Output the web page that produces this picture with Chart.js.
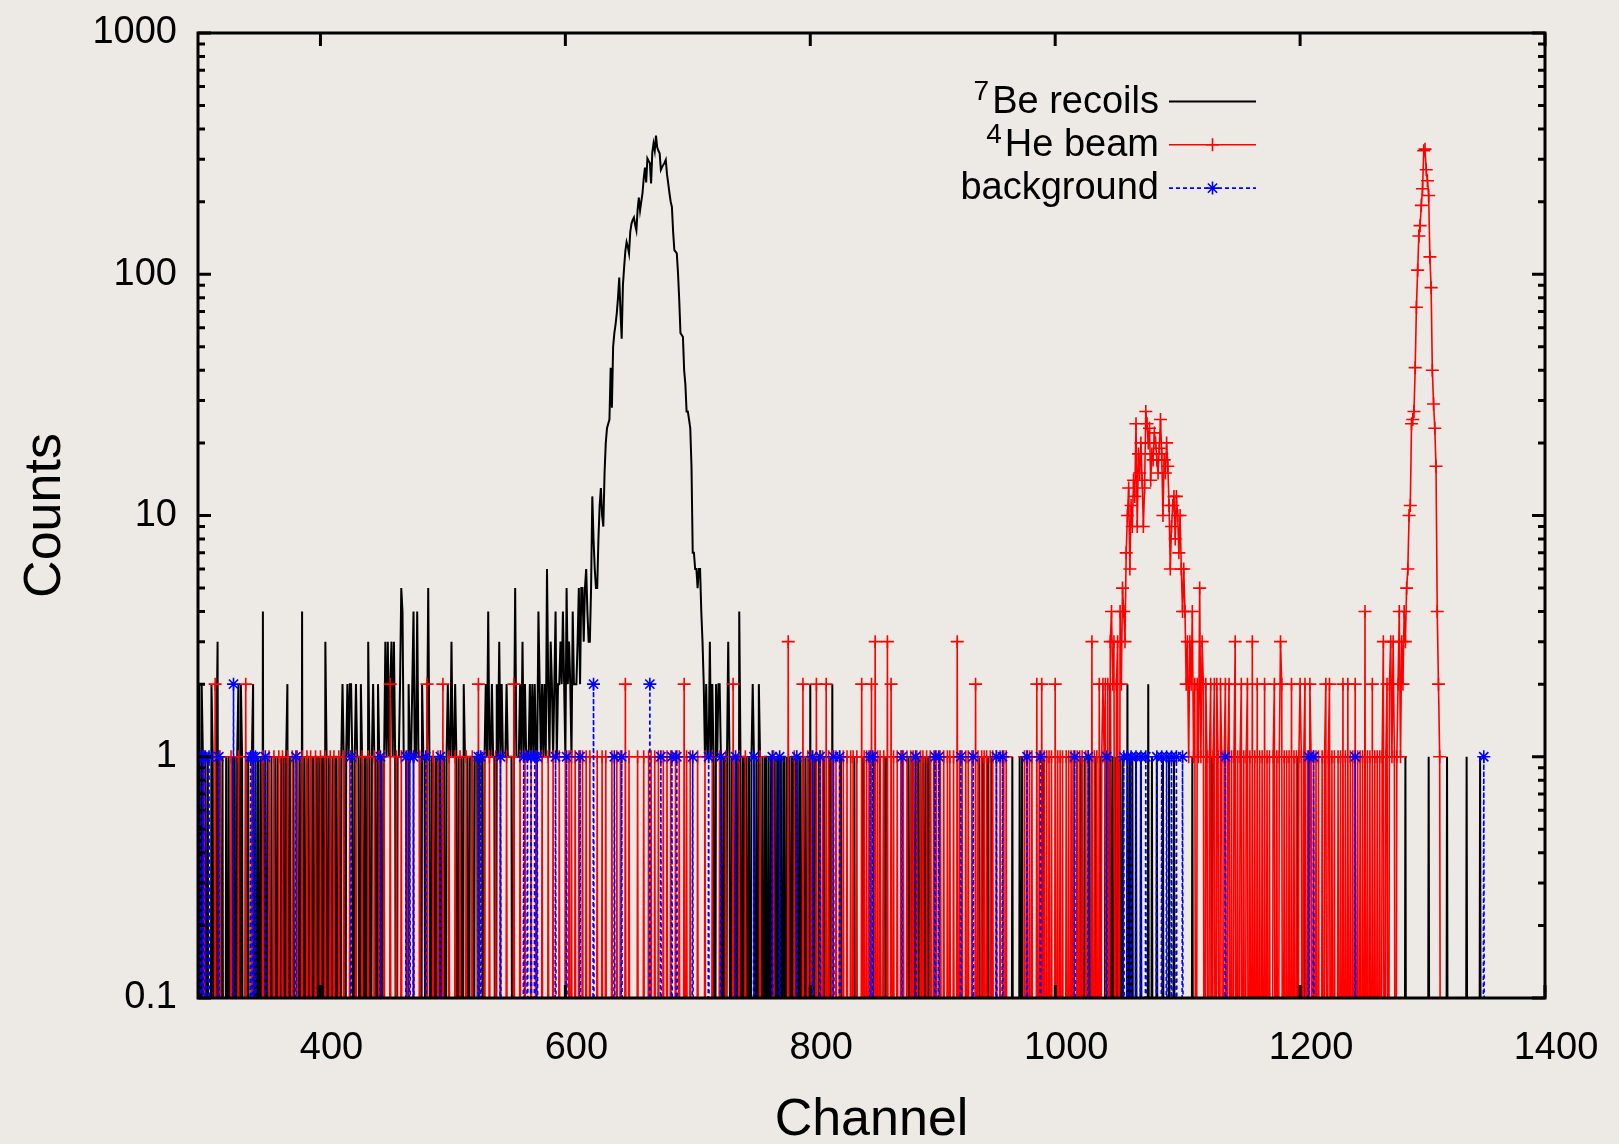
<!DOCTYPE html>
<html>
<head>
<meta charset="utf-8">
<title>Counts per channel</title>
<script src="https://cdn.jsdelivr.net/npm/chart.js@4.4.1/dist/chart.umd.min.js"></script>
<style>
  html, body { margin: 0; padding: 0; background: #edeae6; }
  #wrap { width: 1619px; height: 1144px; position: relative; }
</style>
</head>
<body>
<div id="wrap"><canvas id="chart"></canvas></div>
<script>
// channel of the first entry in every counts array (one entry per channel)
const firstChannel = 300;
const xTicks = [400, 600, 800, 1000, 1200, 1400];
const yTicks = [0.1, 1, 10, 100, 1000];
const seriesNames = ['Be recoils', 'He beam', 'background'];
const seriesIsotopes = ['7', '4', ''];

// 7Be recoils, channels 300..1354
const beRecoilCounts = [
  1,2,0,2,1,0,1,0,1,0, 0,2,1,0,0,1,3,0,1,0, 1,0,0,1,0,1,0,0,1,0, 1,0,1,2,0,2,1,0,0,1, 0,1,0,0,1,2,0,1,0,1, // 300
  0,1,0,4,0,1,0,1,0,0, 1,0,0,1,0,1,0,0,1,0, 1,0,1,2,0,1,0,0,1,0, 0,1,0,1,0,4,0,1,0,1, 1,0,1,0,1,0,1,1,0,1, // 350
  0,1,1,0,3,1,0,1,1,0, 1,0,1,1,0,1,0,1,2,1, 0,1,2,1,2,2,1,0,1,2, 1,1,0,2,1,0,1,1,0,3, 1,0,1,2,1,1,0,2,1,0, // 400
  1,0,1,3,1,3,1,2,3,1, 3,1,0,1,1,2,5,4,1,1, 1,0,2,1,1,2,4,1,1,4, 1,1,0,2,1,1,0,1,5,1, 0,1,1,0,1,1,0,1,1,0, // 450
  1,1,0,1,2,1,1,3,1,1, 2,1,0,1,1,1,0,2,1,1, 1,0,1,1,1,0,1,1,1,0, 1,1,1,0,1,2,1,4,1,1, 2,1,1,0,2,1,3,1,2,1, // 500
  1,1,2,1,1,1,1,0,1,5, 1,1,1,2,1,3,1,2,1,1, 1,2,1,2,1,2,1,1,4,2, 1,2,1,2,1,6,2,1,3,2, 1,2,4,1,2,2,3,2,4,2, // 550
  1,5,2,3,2,1,4,2,2,2, 3,5,2,5,5,3,5,6,4,3, 3,5,12,8,6,5,5,8,11,13, 10,9,15,20,23,24,25,41,28,50, 57,62,69,80,97,70,54,90,107,125, // 600
  136,130,122,150,162,168,172,160,152,185, 208,184,200,217,250,277,240,302,295,289, 238,320,348,325,376,336,325,317,271,278, 284,290,298,260,238,217,200,190,150,126, 124,122,101,78,57,56,55,40,35,27, // 650
  27,25,23,16,7,7,6,6,5,6, 6,4,3,2,1,2,1,1,3,1, 2,1,0,2,1,2,2,1,0,1, 1,0,1,3,1,0,1,1,0,1, 1,0,4,1,0,1,1,0,1,0, // 700
  1,0,1,2,1,0,1,0,2,1, 0,1,0,1,1,0,1,0,1,1, 0,1,0,1,1,0,1,0,1,1, 0,1,0,1,0,1,1,0,1,1, 0,1,1,0,1,0,1,0,1,0, // 750
  2,0,1,0,1,0,0,1,0,0, 0,1,0,0,0,0,1,0,2,0, 0,0,0,0,0,1,0,0,0,0, 0,0,0,0,0,0,1,0,0,0, 0,0,0,1,0,0,0,0,0,0, // 800
  0,0,1,0,0,0,0,1,0,0, 1,0,1,0,0,0,0,0,0,0, 0,0,0,0,0,0,0,0,0,0, 1,0,1,0,1,0,1,0,1,0, 1,0,1,0,1,0,1,0,1,0, // 850
  0,1,0,0,0,0,1,0,0,0, 0,0,0,0,0,0,0,0,0,0, 0,0,0,0,0,0,0,0,0,0, 0,0,0,0,0,0,0,0,1,0, 0,1,0,0,0,1,0,0,1,0, // 900
  0,0,0,0,0,0,0,0,0,0, 0,0,0,0,0,1,0,0,0,0, 0,1,0,1,0,0,0,0,0,0, 0,0,0,0,0,0,0,0,0,0, 1,0,0,0,0,0,0,0,0,0, // 950
  0,0,0,0,0,0,0,0,0,0, 0,0,0,0,0,1,0,0,1,0, 0,1,0,0,1,0,0,0,1,0, 0,0,0,1,0,0,0,1,0,0, 0,1,0,1,0,2,0,1,0,1, // 1000
  0,1,0,1,0,1,0,0,0,2, 0,1,0,1,0,0,1,0,0,0, 1,0,0,0,0,0,2,0,0,1, 0,0,0,1,0,0,0,0,1,0, 0,0,0,1,0,0,0,1,0,0, // 1050
  0,0,0,0,0,0,0,0,0,0, 0,0,1,0,0,0,0,0,0,0, 0,0,0,0,0,0,0,0,1,0, 0,0,0,0,0,0,0,0,0,0, 0,0,0,0,0,0,0,0,0,0, // 1100
  0,0,0,0,0,0,0,0,0,0, 0,0,0,0,0,0,0,0,0,0, 0,0,0,0,0,0,0,0,0,0, 0,0,0,0,0,0,0,0,0,0, 0,0,0,0,0,0,0,0,1,0, // 1150
  0,0,0,1,0,0,0,0,0,0, 0,0,0,0,0,0,0,0,0,0, 0,0,0,0,0,0,0,0,0,0, 0,0,0,0,0,0,0,0,0,0, 0,0,0,0,0,0,0,0,0,0, // 1200
  0,0,0,0,0,0,0,0,0,0, 0,0,0,0,0,0,0,0,0,0, 0,0,0,0,0,0,0,0,0,0, 0,0,0,0,0,0,1,0,0,0, 0,0,0,0,0,0,0,0,0,0, // 1250
  0,0,0,0,0,1,0,0,0,0, 0,0,0,0,0,0,0,0,0,0, 1,0,0,0,0,0,0,0,0,0, 0,0,0,0,0,0,1,0,0,0, 0,0,0,0,0,0,0,1,0,0, // 1300
  0,0,0,0,0 // 1350
];

// 4He beam, channels 300..1354
const heBeamCounts = [
  1,0,0,0,0,1,0,0,0,0, 0,0,0,0,2,0,0,0,1,0, 0,0,0,0,0,0,0,1,0,0, 0,0,0,1,0,0,0,0,0,2, 0,0,0,0,1,0,0,0,0,0, // 300
  0,0,0,1,0,0,0,0,1,0, 0,0,1,0,0,0,1,0,0,1, 0,0,0,1,0,0,0,1,0,0, 0,1,0,0,0,1,0,0,0,1, 0,0,1,0,0,0,1,0,0,0, // 350
  1,0,0,0,1,0,0,0,1,0, 0,1,0,0,0,1,0,0,0,1, 0,0,0,0,1,0,0,0,0,1, 0,0,0,0,1,0,0,0,0,1, 0,0,0,0,1,0,0,0,1,0, // 400
  0,0,1,0,0,0,0,2,0,0, 0,0,1,0,0,0,1,0,0,0, 0,1,0,0,0,0,1,0,0,0, 0,1,0,0,0,0,0,2,0,0, 0,0,1,0,0,0,1,0,0,0, // 450
  2,0,0,0,0,1,0,0,0,0, 1,0,0,0,1,0,0,0,0,1, 0,0,0,0,1,0,0,0,0,2, 0,0,0,0,1,0,0,0,1,0, 0,0,0,1,0,0,0,1,0,0, // 500
  0,0,1,0,0,0,0,0,2,0, 0,0,0,1,0,0,0,1,0,0, 0,0,1,0,0,0,1,0,0,0, 0,1,0,0,0,0,1,0,0,0, 1,0,0,0,0,1,0,0,0,0, // 550
  1,0,0,1,0,1,0,0,1,0, 0,1,0,0,1,0,0,1,0,0, 1,0,0,0,0,0,1,0,0,0, 1,0,0,1,0,0,0,0,1,0, 0,0,1,0,0,1,0,0,0,2, // 600
  0,0,1,0,0,0,0,0,0,1, 0,0,0,0,1,0,0,0,1,0, 1,0,0,1,0,0,1,0,0,0, 1,0,0,1,0,0,1,0,0,0, 1,0,0,1,0,0,0,2,0,1, // 650
  0,0,1,0,0,0,0,0,1,0, 0,0,0,0,1,0,0,0,0,0, 1,0,0,0,0,0,1,0,0,0, 0,1,0,0,0,0,0,2,0,0, 0,0,1,0,0,0,0,1,0,0, // 700
  0,0,0,0,0,0,0,0,0,1, 0,0,0,0,0,0,0,0,0,0, 1,0,0,0,0,0,0,0,0,0, 0,0,3,0,0,0,0,1,0,0, 0,0,0,0,2,0,0,0,1,0, // 750
  0,1,0,0,0,2,0,0,1,0, 1,0,0,2,0,1,0,0,1,0, 0,1,0,0,1,0,0,1,0,0, 1,0,0,1,0,1,0,0,1,0, 0,0,2,0,1,0,1,0,1,0, // 800
  2,0,0,3,0,1,0,1,0,0, 1,0,0,3,0,0,2,0,1,0, 0,1,0,0,1,0,1,0,0,1, 0,0,1,0,1,0,0,1,0,0, 1,0,1,0,0,1,0,0,1,0, // 850
  0,1,0,1,0,0,1,0,0,1, 0,0,1,0,1,0,0,1,0,0, 3,0,1,0,1,0,0,1,0,1, 0,0,1,0,0,2,0,1,0,0, 1,0,1,0,1,0,0,1,0,1, // 900
  0,0,1,0,0,1,0,0,1,0, 1,0,0,0,0,0,0,0,0,0, 0,0,0,0,0,1,0,1,0,1, 0,1,0,0,0,2,0,1,0,2, 0,1,0,1,0,1,0,1,0,0, // 950
  2,0,1,0,1,0,1,0,0,1, 0,1,0,1,0,1,0,0,1,0, 1,0,1,0,0,1,0,1,0,0, 3,0,1,0,1,0,2,0,1,2, 1,2,0,2,0,3,4,2,3,0, // 1000
  2,3,0,4,2,5,4,3,7,10, 13,6,11,9,14,12,24,9,18,15, 20,14,9,13,27,24,20,23,14,18, 17,22,20,17,15,19,25,18,10,17, 15,20,16,11,6,9,11,12,8,12, // 1050
  10,7,10,6,4,6,4,2,3,1, 3,2,4,1,2,0,2,1,5,1, 3,2,0,2,1,0,1,2,0,1, 2,0,2,1,0,2,1,0,1,2, 0,1,2,0,1,0,1,3,0,1, // 1100
  0,1,2,0,1,0,1,2,0,1, 0,3,0,1,0,2,0,1,0,1, 0,2,0,1,0,1,0,0,1,2, 0,1,0,1,3,2,0,1,0,1, 0,1,0,2,0,1,0,1,0,1, // 1150
  2,1,0,1,2,0,1,0,2,1, 0,1,0,1,0,1,0,0,1,0, 1,2,0,1,2,0,1,0,1,0, 0,1,0,1,0,2,0,1,0,2, 0,1,0,1,0,2,0,1,0,1, // 1200
  0,1,0,4,0,1,0,1,0,2, 0,1,0,1,0,1,0,1,3,0, 1,2,0,2,3,1,3,1,0,1, 2,4,1,3,2,4,3,5,6,10, 11,24,25,27,41,73,104,144,159,193, // 1250
  226,325,330,271,244,212,118,88,40,29, 23,16,4,2,1,0,0,0,0,0, 0,0,0,0,0,0,0,0,0,0, 0,0,0,0,0,0,0,0,0,0, 0,0,0,0,0,0,0,0,0,0, // 1300
  0,0,0,0,0 // 1350
];

// background, channels 300..1354
const backgroundCounts = [
  1,0,1,0,1,0,1,0,0,1, 0,0,0,0,0,0,0,1,0,0, 0,0,0,0,0,0,0,0,0,2, 0,0,0,0,0,0,0,0,0,0, 0,0,0,1,0,1,0,1,0,0, // 300
  0,0,0,0,0,1,0,0,0,0, 0,0,0,0,0,0,0,0,0,0, 0,0,0,0,0,0,0,0,0,0, 1,0,0,0,0,0,0,0,0,0, 0,0,0,0,0,0,0,0,0,0, // 350
  0,0,0,0,0,0,0,0,0,0, 0,0,0,0,0,0,0,0,0,0, 0,0,0,0,0,1,0,0,0,0, 0,0,0,0,0,0,0,0,0,0, 0,0,0,0,0,0,0,0,0,1, // 400
  0,0,0,0,0,0,0,0,0,0, 0,0,0,0,0,0,0,0,0,0, 1,0,0,1,0,0,1,0,0,0, 0,0,0,0,0,0,1,0,0,0, 0,0,0,0,0,0,0,0,1,0, // 450
  0,0,0,0,0,0,0,0,0,0, 0,0,0,0,0,0,0,0,0,0, 0,0,0,0,0,0,0,0,0,1, 0,1,0,0,0,0,0,0,0,0, 0,0,0,0,0,0,0,1,0,0, // 500
  0,0,0,0,0,0,0,0,0,0, 0,0,0,0,0,0,1,0,0,1, 0,0,1,0,0,1,0,1,0,0, 0,0,0,0,0,0,0,0,0,0, 0,0,1,0,0,0,0,0,0,0, // 550
  0,1,0,0,0,0,0,0,0,0, 0,0,1,0,0,0,0,0,0,0, 0,0,0,2,0,0,0,0,0,0, 0,0,0,0,0,0,0,0,0,0, 1,0,0,0,0,0,1,0,0,0, // 600
  0,0,0,0,0,0,0,0,0,0, 0,0,0,0,0,0,0,0,0,2, 0,0,0,0,0,0,0,0,1,0, 0,0,0,0,0,0,0,1,0,0, 0,1,0,0,0,0,0,0,0,0, // 650
  0,0,0,0,1,0,0,0,0,0, 0,0,0,0,0,0,0,1,0,0, 0,0,0,0,0,0,0,1,0,0, 0,0,0,0,0,0,0,0,0,1, 0,0,0,0,0,0,0,0,0,0, // 700
  0,0,0,0,1,0,0,0,0,0, 0,0,0,0,0,0,0,0,0,1, 0,0,0,0,0,1,0,0,0,0, 0,0,0,0,0,0,0,0,0,1, 0,0,0,0,0,0,0,0,0,0, // 750
  0,0,1,0,0,0,0,0,1,0, 0,0,0,0,0,0,0,0,0,1, 0,0,0,0,1,0,0,0,0,0, 0,0,0,0,0,0,0,0,0,0, 0,0,0,0,0,0,0,0,0,1, // 800
  0,1,0,0,0,0,0,0,0,0, 0,0,0,0,0,0,0,0,0,0, 0,0,0,0,0,1,0,0,0,0, 0,0,0,0,0,0,1,0,0,0, 0,0,0,0,0,0,0,0,0,0, // 850
  0,0,1,0,0,1,0,0,0,0, 0,0,0,0,0,0,0,0,0,0, 0,0,0,1,0,0,0,0,0,0, 0,0,0,1,0,0,0,0,0,0, 0,0,0,0,0,0,0,0,0,0, // 900
  0,0,1,0,0,0,0,1,0,0, 0,0,0,0,0,0,0,0,0,0, 0,0,0,0,0,0,0,1,0,0, 0,0,0,0,0,0,0,0,1,0, 0,0,0,0,0,0,0,0,0,0, // 950
  0,0,0,0,0,0,0,0,0,0, 0,0,0,0,0,0,1,0,0,0, 0,0,0,0,0,0,0,1,0,0, 0,0,0,0,0,0,0,0,0,0, 0,0,1,0,0,0,0,0,0,0, // 1000
  0,0,0,0,0,0,1,0,0,1, 0,0,1,0,0,0,1,0,0,0, 1,0,0,0,1,0,0,0,0,0, 0,0,0,1,0,0,0,1,0,0, 0,1,0,0,0,1,0,0,0,1, // 1050
  0,0,0,0,1,0,0,0,0,0, 0,0,0,0,0,0,0,0,0,0, 0,0,0,0,0,0,0,0,0,0, 0,0,0,0,0,0,0,0,0,1, 0,0,0,0,0,0,0,0,0,0, // 1100
  0,0,0,0,0,0,0,0,0,0, 0,0,0,0,0,0,0,0,0,0, 0,0,0,0,0,0,0,0,0,0, 0,0,0,0,0,0,0,0,0,0, 0,0,0,0,0,0,0,0,0,0, // 1150
  0,0,0,0,0,0,0,1,0,0, 0,1,0,0,0,0,0,0,0,0, 0,0,0,0,0,0,0,0,0,0, 0,0,0,0,0,0,0,0,0,0, 0,0,0,0,0,1,0,0,0,0, // 1200
  0,0,0,0,0,0,0,0,0,0, 0,0,0,0,0,0,0,0,0,0, 0,0,0,0,0,0,0,0,0,0, 0,0,0,0,0,0,0,0,0,0, 0,0,0,0,0,0,0,0,0,0, // 1250
  0,0,0,0,0,0,0,0,0,0, 0,0,0,0,0,0,0,0,0,0, 0,0,0,0,0,0,0,0,0,0, 0,0,0,0,0,0,0,0,0,0, 0,0,0,0,0,0,0,0,0,0, // 1300
  1,0,0,0,0 // 1350
];

const fontFamily = "'Liberation Sans', Arial, Helvetica, sans-serif";
Chart.defaults.font.family = fontFamily;
Chart.defaults.color = '#000';

// empty channels have no place on a log axis: park them below 0.1 so the line drops out of the frame
const offScale = 1e-3;
const toPlot = counts => counts.map(c => (c > 0 ? c : offScale));
const markerSize = (counts, r) => ctx => (counts[ctx.dataIndex] > 0 ? r : 0);

const channels = beRecoilCounts.map((_, i) => firstChannel + i);

// --- frame with inward ticks, gnuplot style ---
const frame = {
  id: 'frame',
  afterDatasetsDraw(chart) {
    const {ctx, chartArea: a, scales: {x, y}} = chart;
    ctx.save();
    ctx.strokeStyle = '#000';
    ctx.lineWidth = 3;
    ctx.beginPath();
    xTicks.forEach(v => {
      const px = x.getPixelForValue(v);
      ctx.moveTo(px, a.bottom); ctx.lineTo(px, a.bottom - 13);
      ctx.moveTo(px, a.top); ctx.lineTo(px, a.top + 13);
    });
    yTicks.forEach(v => {
      const py = y.getPixelForValue(v);
      ctx.moveTo(a.left, py); ctx.lineTo(a.left + 13, py);
      ctx.moveTo(a.right, py); ctx.lineTo(a.right - 13, py);
      if (v >= 1000) return;
      for (let k = 2; k <= 9; k++) {
        const pm = y.getPixelForValue(v * k);
        ctx.moveTo(a.left, pm); ctx.lineTo(a.left + 7, pm);
        ctx.moveTo(a.right, pm); ctx.lineTo(a.right - 7, pm);
      }
    });
    ctx.stroke();
    ctx.strokeRect(a.left, a.top, a.right - a.left, a.bottom - a.top);
    ctx.restore();
  }
};

// --- key in the upper right, with superscript mass numbers ---
const keyTextRight = 1159, keyLineLeft = 1169, keyLineRight = 1256;
const keyTop = 101.5, keyGap = 43.3;

const keyBox = {
  id: 'keyBox',
  afterDraw(chart) {
    const {ctx} = chart;
    ctx.save();
    chart.data.datasets.forEach((ds, i) => {
      const lineY = keyTop + i * keyGap;
      const baseY = lineY + 11;
      ctx.fillStyle = '#000';
      ctx.textAlign = 'right';
      ctx.textBaseline = 'alphabetic';
      ctx.font = `38px ${fontFamily}`;
      ctx.fillText(seriesNames[i], keyTextRight, baseY);
      const w = ctx.measureText(seriesNames[i]).width;
      if (seriesIsotopes[i]) {
        ctx.font = `28px ${fontFamily}`;
        ctx.fillText(seriesIsotopes[i], keyTextRight - w - 3, baseY - 13);
      }
      ctx.strokeStyle = ds.borderColor;
      ctx.lineWidth = ds.borderWidth;
      ctx.setLineDash(ds.borderDash || []);
      ctx.beginPath();
      ctx.moveTo(keyLineLeft, lineY);
      ctx.lineTo(keyLineRight, lineY);
      ctx.stroke();
      ctx.setLineDash([]);
      if (ds.pointStyle) {
        ctx.strokeStyle = ds.pointBorderColor;
        Chart.helpers.drawPoint(ctx, {
          pointStyle: ds.pointStyle, rotation: 0, radius: 6.5, borderWidth: ds.pointBorderWidth
        }, (keyLineLeft + keyLineRight) / 2, lineY);
      }
    });
    ctx.restore();
  }
};

// keep the plot frame where it is: no extra room for overhanging tick labels
const noOverhang = s => { s.paddingTop = 0; s.paddingBottom = 0; s.paddingLeft = 0; s.paddingRight = 0; };

new Chart(document.getElementById('chart'), {
  type: 'line',
  data: {
    labels: channels,
    datasets: [
      {
        label: '\u2077Be recoils',
        data: toPlot(beRecoilCounts),
        borderColor: '#000000',
        borderWidth: 2,
        pointStyle: false,
        pointRadius: 0,
        order: 3
      },
      {
        label: '\u2074He beam',
        data: toPlot(heBeamCounts),
        borderColor: '#ff0000',
        borderWidth: 1.6,
        pointStyle: 'cross',
        pointRadius: markerSize(heBeamCounts, 6.5),
        pointBorderColor: '#ff0000',
        pointBorderWidth: 1.6,
        order: 2
      },
      {
        label: 'background',
        data: toPlot(backgroundCounts),
        borderColor: '#0000ff',
        borderWidth: 1.6,
        borderDash: [4, 3],
        pointStyle: 'star',
        pointRadius: markerSize(backgroundCounts, 6.5),
        pointBorderColor: '#0000ff',
        pointBorderWidth: 1.6,
        order: 1
      }
    ]
  },
  options: {
    responsive: true,
    maintainAspectRatio: false,
    animation: false,
    events: [],
    devicePixelRatio: 1,
    clip: 0,
    layout: { padding: { top: 33, right: 74, bottom: 0, left: 0 } },
    elements: { line: { tension: 0, fill: false } },
    plugins: { legend: { display: false }, tooltip: { enabled: false } },
    scales: {
      x: {
        type: 'linear',
        min: 300,
        max: 1400,
        afterBuildTicks: s => { s.ticks = xTicks.map(v => ({ value: v })); },
        afterFit: s => { s.height = 146; noOverhang(s); },
        grid: { display: false, drawTicks: false },
        border: { display: false },
        ticks: { font: { size: 38 }, padding: 28, labelOffset: 11, maxRotation: 0, autoSkip: false, callback: v => String(v) },
        title: { display: true, text: 'Channel', font: { size: 52, lineHeight: 0.9 }, padding: 0 }
      },
      y: {
        type: 'logarithmic',
        min: 0.1,
        max: 1000,
        afterBuildTicks: s => { s.ticks = yTicks.map(v => ({ value: v })); },
        afterFit: s => { s.width = 198; noOverhang(s); },
        grid: { display: false, drawTicks: false },
        border: { display: false },
        ticks: { font: { size: 38 }, padding: 21, autoSkip: false, callback: v => String(v) },
        title: { display: true, text: 'Counts', font: { size: 52, lineHeight: 1 }, padding: { top: 20, bottom: 0 } }
      }
    }
  },
  plugins: [frame, keyBox]
});
</script>
</body>
</html>
